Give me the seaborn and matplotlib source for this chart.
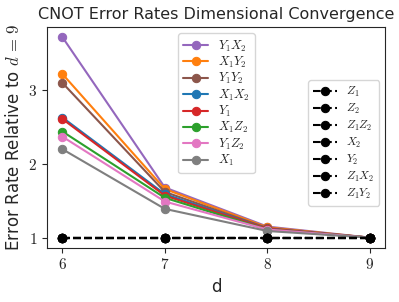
import matplotlib
matplotlib.use("Agg")
import matplotlib.pyplot as plt
import seaborn as sns
import pandas as pd
from matplotlib.ticker import FixedLocator, FuncFormatter

sns.set_style("ticks")
plt.rcParams['font.family'] = ['DejaVu Sans']
plt.rcParams['mathtext.fontset'] = 'cm'

distances = [6, 7, 8, 9]

# colored series (legend 1)
series_labels = [r'$Y_1X_2$', r'$X_1Y_2$', r'$Y_1Y_2$', r'$X_1X_2$', r'$Y_1$', r'$X_1Z_2$', r'$Y_1Z_2$', r'$X_1$']
series_values = [
    [3.72, 1.68, 1.15, 1.0],
    [3.22, 1.66, 1.14, 1.0],
    [3.10, 1.62, 1.13, 1.0],
    [2.63, 1.59, 1.12, 1.0],
    [2.61, 1.57, 1.12, 1.0],
    [2.44, 1.54, 1.11, 1.0],
    [2.37, 1.49, 1.11, 1.0],
    [2.20, 1.39, 1.09, 1.0],
]
series_colors = ['C4', 'C1', 'C5', 'C0', 'C3', 'C2', 'C6', 'C7']

# black dashed series (legend 2)
flat_labels = [r'$Z_1$', r'$Z_2$', r'$Z_1Z_2$', r'$X_2$', r'$Y_2$', r'$Z_1X_2$', r'$Z_1Y_2$']
flat_values = [
    [1.0, 1.0, 1.0, 1.0],
    [1.0, 1.0, 1.0, 1.0],
    [1.0, 1.0, 1.0, 1.0],
    [1.0, 1.0, 1.0, 1.0],
    [1.0, 1.0, 1.0, 1.0],
    [1.0, 1.0, 1.0, 1.0],
    [1.0, 1.0, 1.0, 1.0],
]

fig, ax = plt.subplots(figsize=(3.99, 3.02), dpi=100)

h1 = []
for lab, vals, col in zip(series_labels, series_values, series_colors):
    df = pd.DataFrame({'d': distances, 'r': vals})
    sns.lineplot(data=df, x='d', y='r', marker='o', color=col, markeredgecolor=col,
                 markersize=6, linewidth=1.5, ax=ax)
    h1.append(ax.lines[-1])

h2 = []
for lab, vals in zip(flat_labels, flat_values):
    df = pd.DataFrame({'d': distances, 'r': vals})
    sns.lineplot(data=df, x='d', y='r', marker='o', color='black', markeredgecolor='black',
                 markersize=6, linewidth=1.5, linestyle='--', ax=ax)
    h2.append(ax.lines[-1])

ax.xaxis.set_major_locator(FixedLocator(distances))
ax.yaxis.set_major_locator(FixedLocator([1, 2, 3]))
fmt = FuncFormatter(lambda v, p: r'$%d$' % v)
ax.xaxis.set_major_formatter(fmt)
ax.yaxis.set_major_formatter(fmt)
ax.tick_params(labelsize=11)

ax.set_title('CNOT Error Rates Dimensional Convergence', fontsize=11.5)
ax.set_xlabel('d', fontsize=12)
ax.set_ylabel(r'Error Rate Relative to $d\,=\,9$', fontsize=12)

leg1 = ax.legend(h1, series_labels, loc='upper center', bbox_to_anchor=(0.501, 1.0),
                 fontsize=9, labelspacing=0.1, framealpha=0.8)
ax.add_artist(leg1)
ax.legend(h2, flat_labels, loc='center right', bbox_to_anchor=(1.0, 0.475), fontsize=8.5,
          labelspacing=0.25, framealpha=0.8, handlelength=2)

fig.subplots_adjust(left=0.118, right=0.965, top=0.91, bottom=0.18)
fig.savefig('out.png', dpi=100)
